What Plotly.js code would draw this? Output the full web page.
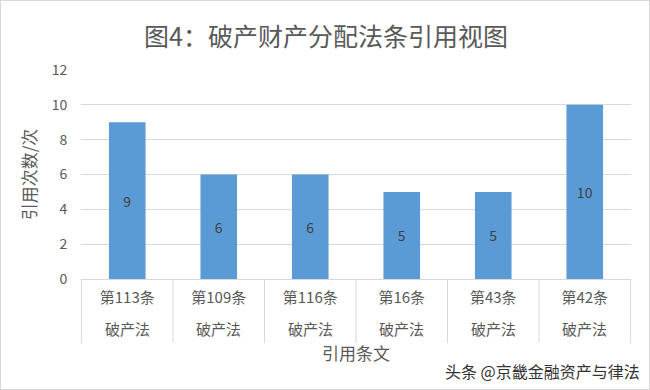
<!DOCTYPE html>
<html>
<head>
<meta charset="utf-8">
<script src="https://cdn.plot.ly/plotly-3.0.1.min.js"></script>
<style>
html,body{margin:0;padding:0;background:#fff;}
#chart{width:650px;height:390px;box-sizing:border-box;border:1px solid #d9d9d9;}
</style>
</head>
<body>
<div id="chart"></div>
<script>
const articles = ['第113条', '第109条', '第116条', '第16条', '第43条', '第42条'];
const laws = ['破产法', '破产法', '破产法', '破产法', '破产法', '破产法'];
const counts = [9, 6, 6, 5, 5, 10];
const yTicks = [0, 2, 4, 6, 8, 10, 12];

const FONT = '"Noto Sans CJK SC", "Noto Sans", sans-serif';
const GRAY = '#595959';

const trace = {
  type: 'bar',
  x: articles,
  y: counts,
  text: counts.map(String),
  textposition: 'inside',
  insidetextanchor: 'middle',
  textangle: 0,
  textfont: {family: FONT, size: 14, color: '#404040'},
  marker: {color: '#5b9bd5'},
  hoverinfo: 'x+y'
};

const shapes = [];
for (let i = 0; i <= articles.length; i++) {
  shapes.push({
    type: 'line', xref: 'x', yref: 'paper',
    x0: i - 0.5, x1: i - 0.5, y0: 0, y1: -0.306,
    line: {color: '#d9d9d9', width: 1}
  });
}

const annotations = laws.map((t, i) => ({
  text: t, x: articles[i], xref: 'x', yref: 'paper', y: -0.239,
  yanchor: 'middle', showarrow: false,
  font: {family: FONT, size: 15, color: GRAY}
}));
annotations.push({
  text: '头条 @京畿金融资产与律法', xref: 'paper', yref: 'paper',
  x: 1.02, y: -0.44, xanchor: 'right', yanchor: 'middle', showarrow: false,
  font: {family: FONT, size: 16, color: '#333333'}
});

const layout = {
  width: 650, height: 390,
  margin: {l: 80, r: 20, t: 69, b: 112},
  paper_bgcolor: 'rgba(0,0,0,0)',
  plot_bgcolor: '#ffffff',
  bargap: 0.6,
  showlegend: false,
  title: {
    text: '图4：破产财产分配法条引用视图',
    x: 0.5, xref: 'container', xanchor: 'center',
    y: 0.908, yref: 'container', yanchor: 'middle',
    font: {family: FONT, size: 25, color: GRAY}
  },
  xaxis: {
    type: 'category',
    showgrid: false, zeroline: false, showline: false,
    ticks: 'outside', ticklen: 5, tickcolor: 'rgba(0,0,0,0)',
    tickfont: {family: FONT, size: 15, color: GRAY},
    title: {text: '引用条文', standoff: 42, font: {family: FONT, size: 17, color: GRAY}},
    fixedrange: true
  },
  yaxis: {
    range: [0, 12],
    tickvals: yTicks,
    ticktext: yTicks.map(String),
    showgrid: true, gridcolor: '#d9d9d9', gridwidth: 1,
    zeroline: true, zerolinecolor: '#d9d9d9', zerolinewidth: 1,
    showline: false,
    ticks: 'outside', ticklen: 10, tickcolor: 'rgba(0,0,0,0)',
    tickfont: {family: FONT, size: 14, color: GRAY},
    title: {text: '引用次数/次', standoff: 10, font: {family: FONT, size: 17, color: GRAY}},
    fixedrange: true
  },
  shapes: shapes,
  annotations: annotations
};

Plotly.newPlot('chart', [trace], layout, {displayModeBar: false, staticPlot: true});
</script>
</body>
</html>
